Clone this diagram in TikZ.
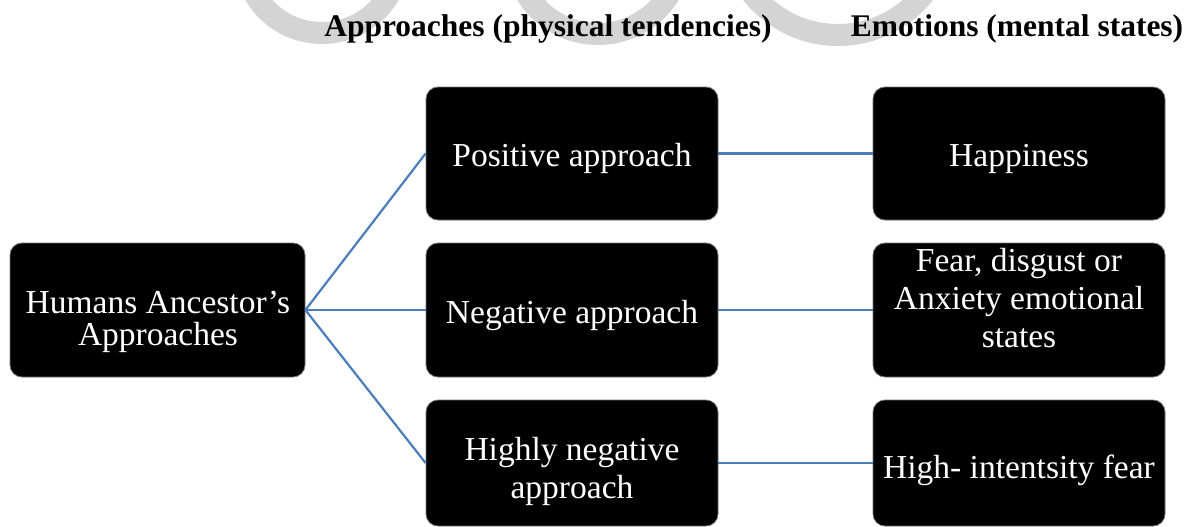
\documentclass[tikz,border=0pt]{standalone}
\usepackage{fontspec}
\setmainfont{Liberation Serif}
\definecolor{linkblue}{HTML}{4A7EBB}
\definecolor{wmgray}{HTML}{D4D4D4}
\tikzset{
  box/.style={draw=black!55, line width=0.8pt, fill=black, rounded corners=12pt,
    inner sep=0pt, minimum width=292pt},
  lbl/.style={text=white, align=center, inner sep=0pt, font=\fontsize{33.5}{38}\selectfont},
  head/.style={font=\fontsize{31.5}{36}\selectfont\bfseries, anchor=base, inner sep=0pt},
  link/.style={draw=linkblue, line width=2.2pt},
  wm/.style={draw=wmgray, line width=22pt}
}
\begin{document}
\begin{tikzpicture}[x=1pt,y=-1pt]
\useasboundingbox (0,0) rectangle (1194,527);
\clip (0,0) rectangle (1194,527);
\fill[white] (0,0) rectangle (1194,527);
% faint watermark arcs
\draw[wm] (322,-45) circle[radius=78pt];
\draw[wm] (598,-50) circle[radius=84pt];
\draw[wm] (838,-75) circle[radius=110pt];
% headings
\node[head] (h1) at (548,37) {Approaches (physical tendencies)};
\node[head] (h2) at (1017,37) {Emotions (mental states)};
% boxes
\node[box, minimum width=295pt, minimum height=134pt] (hum) at (157.5,310) {};
\node[box, minimum height=133pt] (pos) at (572,153.5) {};
\node[box, minimum height=134pt] (neg) at (572,310) {};
\node[box, minimum height=126pt] (hneg) at (572,463) {};
\node[box, minimum height=133pt] (hap) at (1019,153.5) {};
\node[box, minimum height=134pt] (fear) at (1019,310) {};
\node[box, minimum height=126pt] (hif) at (1019,463) {};
% texts
\node[lbl, font=\fontsize{33.5}{32}\selectfont] (thum) at (158,321.5) {Humans Ancestor’s\\Approaches};
\node[lbl] (tpos) at (572,158.5) {Positive approach};
\node[lbl] (tneg) at (572,315) {Negative approach};
\node[lbl] (thneg) at (572,471) {Highly negative\\approach};
\node[lbl] (thap) at (1019,158.5) {Happiness};
\node[lbl] (tfear) at (1019,298.5) {Fear, disgust or\\Anxiety emotional\\states};
\node[lbl] (thif) at (1019,470) {High- intentsity fear};
% connectors
\draw[link] (hum.east) -- (pos.west);
\draw[link] (hum.east) -- (neg.west);
\draw[link] (hum.east) -- (hneg.west);
\draw[link] (pos.east) -- (hap.west);
\draw[link] (neg.east) -- (fear.west);
\draw[link] (hneg.east) -- (hif.west);
\end{tikzpicture}
\end{document}
